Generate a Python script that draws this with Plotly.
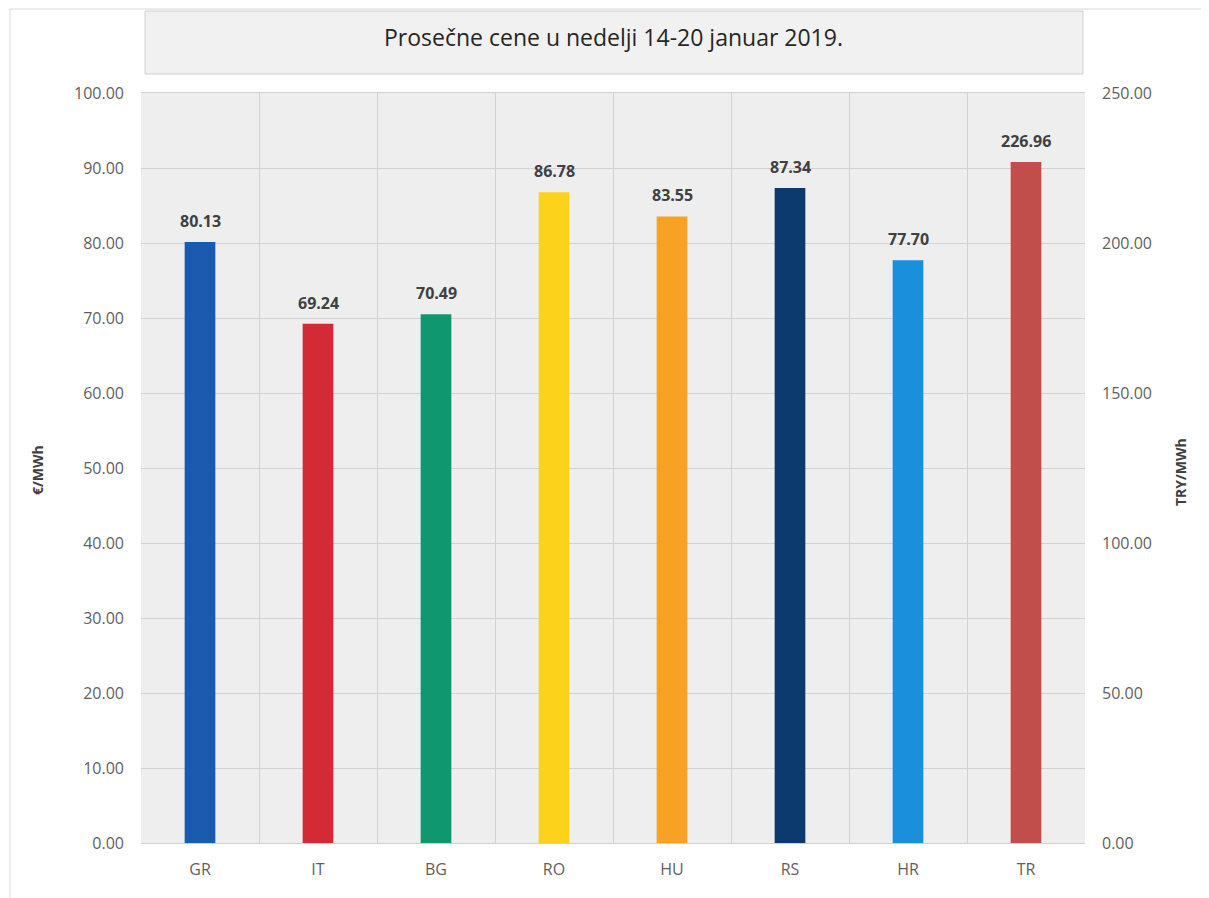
import plotly.graph_objects as go

categories = ["GR", "IT", "BG", "RO", "HU", "RS", "HR", "TR"]
eur_categories = ["GR", "IT", "BG", "RO", "HU", "RS", "HR"]
eur_values = [80.13, 69.24, 70.49, 86.78, 83.55, 87.34, 77.70]
eur_colors = ["#1a5bb0", "#d32a36", "#0f9870", "#fdd21a", "#f7a224", "#0d3a6e", "#1a8fdc"]
try_categories = ["TR"]
try_values = [226.96]
try_colors = ["#c24e4b"]
left_ticks = [0, 10, 20, 30, 40, 50, 60, 70, 80, 90, 100]
right_ticks = [0, 50, 100, 150, 200, 250]
title_text = "Prosečne cene u nedelji 14-20 januar 2019."

FONT = "Open Sans"
OFF = 8  # page body margin
W, H = 1209 - OFF, 898 - OFF
# plot area in page pixels
L, R, T, B = 141, 1085, 93, 843
pw, ph = R - L, B - T

def px(x):
    return (x - L) / pw

def py(y):
    return (B - y) / ph

fig = go.Figure()
fig.add_trace(go.Bar(
    x=eur_categories, y=eur_values, marker=dict(color=eur_colors, line=dict(width=0)),
    width=0.26, yaxis="y", showlegend=False, hoverinfo="x+y"))
fig.add_trace(go.Bar(
    x=try_categories, y=try_values, marker=dict(color=try_colors, line=dict(width=0)),
    width=0.26, yaxis="y2", showlegend=False, hoverinfo="x+y"))

label_annotations = []
for c, v in zip(eur_categories, eur_values):
    label_annotations.append(dict(x=c, y=v, xref="x", yref="y", text=f"<b>{v:.2f}</b>",
                                  showarrow=False, yanchor="bottom", yshift=8,
                                  font=dict(family=FONT, size=16, color="#404040")))
for c, v in zip(try_categories, try_values):
    label_annotations.append(dict(x=c, y=v, xref="x", yref="y2", text=f"<b>{v:.2f}</b>",
                                  showarrow=False, yanchor="bottom", yshift=8,
                                  font=dict(family=FONT, size=16, color="#404040")))

tick_font = dict(family=FONT, size=16, color="#5f5f5f")

fig.update_layout(
    width=W, height=H,
    margin=dict(l=L - OFF, r=W - (R - OFF), t=T - OFF, b=H - (B - OFF)),
    paper_bgcolor="white", plot_bgcolor="#eeeeee",
    barmode="overlay",
    font=dict(family=FONT, size=16, color="#5f5f5f"),
    xaxis=dict(categoryorder="array", categoryarray=categories, tickson="boundaries",
               showgrid=True, gridcolor="#d2d2d2", gridwidth=1, ticks="",
               showline=True, linecolor="#d0d0d0", mirror=True,
               tickfont=tick_font, ticklabelstandoff=12),
    yaxis=dict(range=[0, 100], tickvals=left_ticks, tickformat=".2f",
               showgrid=True, gridcolor="#d2d2d2", zeroline=False, ticks="",
               tickfont=tick_font, ticklabelstandoff=16),
    yaxis2=dict(range=[0, 250], tickvals=right_ticks, tickformat=".2f", overlaying="y",
                side="right", showgrid=False, zeroline=False, ticks="",
                tickfont=tick_font, ticklabelstandoff=16),
    shapes=[
        dict(type="rect", xref="paper", yref="paper", x0=px(10), x1=px(1240), y0=py(930), y1=py(9),
             line=dict(color="#d9d9d9", width=1), fillcolor="rgba(0,0,0,0)", layer="below"),
        dict(type="rect", xref="paper", yref="paper", x0=px(145), x1=px(1083), y0=py(74), y1=py(11),
             line=dict(color="#cfcfcf", width=1), fillcolor="#f1f1f1", layer="below"),
    ],
    annotations=label_annotations + [
        dict(text=title_text, xref="paper", yref="paper", x=px(613), y=py(37),
             xanchor="center", yanchor="middle",
             showarrow=False, font=dict(family=FONT, size=23, color="#262626")),
        dict(text="<b>€/MWh</b>", xref="paper", yref="paper", x=px(38), y=py(470), textangle=-90,
             xanchor="center", yanchor="middle",
             showarrow=False, font=dict(family=FONT, size=14, color="#404040")),
        dict(text="<b>TRY/MWh</b>", xref="paper", yref="paper", x=px(1180), y=py(472), textangle=-90,
             xanchor="center", yanchor="middle",
             showarrow=False, font=dict(family=FONT, size=14, color="#404040")),
    ],
)

fig.write_html("out.html")
